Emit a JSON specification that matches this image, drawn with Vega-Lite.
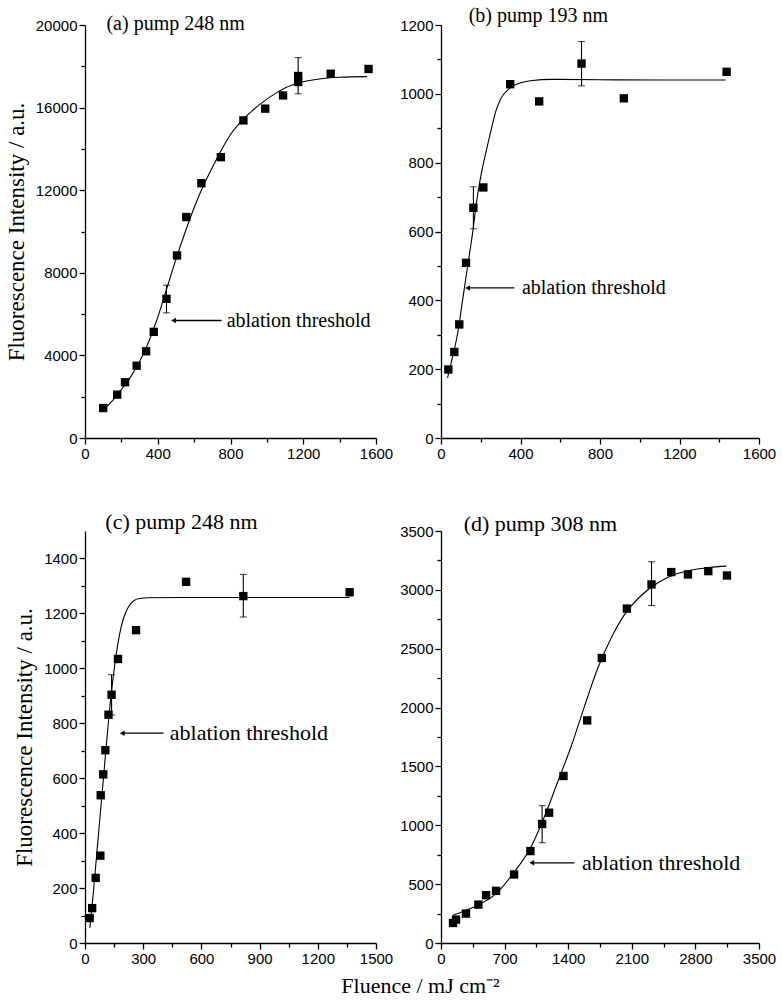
{
  "$schema": "https://vega.github.io/schema/vega-lite/v6.json",
  "background": "white",
  "padding": {"left": 5, "top": 5, "right": 5, "bottom": 5},
  "title": {"text": "Fluence / mJ cm⁻²", "orient": "bottom", "anchor": "middle", "font": "Liberation Serif", "fontSize": 22, "fontWeight": "normal", "color": "black", "dx": 30, "offset": 10},
  "datasets": {
    "a_pts": [{"x":100,"y":1450},{"x":177,"y":2100},{"x":220,"y":2700},{"x":284,"y":3500},{"x":336,"y":4200},{"x":378,"y":5140},{"x":448,"y":6740},{"x":506,"y":8840},{"x":557,"y":10700},{"x":640,"y":12340},{"x":747,"y":13600},{"x":871,"y":15380},{"x":991,"y":15950},{"x":1089,"y":16590},{"x":1172,"y":17530},{"x":1172,"y":17240},{"x":1351,"y":17640},{"x":1559,"y":17870}],
    "a_err": [{"x":448,"y":6060,"y2":7400},{"x":1172,"y":16670,"y2":18420}],
    "a_fit": [{"x":100,"y":1370},{"x":150,"y":1800},{"x":200,"y":2350},{"x":250,"y":2950},{"x":300,"y":3700},{"x":350,"y":4650},{"x":400,"y":5850},{"x":450,"y":7250},{"x":500,"y":8650},{"x":550,"y":9950},{"x":600,"y":11150},{"x":650,"y":12200},{"x":700,"y":13100},{"x":750,"y":13950},{"x":800,"y":14700},{"x":860,"y":15350},{"x":920,"y":15850},{"x":975,"y":16250},{"x":1050,"y":16700},{"x":1100,"y":16950},{"x":1200,"y":17250},{"x":1300,"y":17400},{"x":1400,"y":17470},{"x":1550,"y":17500}],
    "a_ann": [{"x":487,"x2":751,"y":5690}],
    "a_txt": [{"x":779,"y":5690,"text":"ablation threshold"},{"x":118,"y":20060,"text":"(a) pump 248 nm"}],
    "b_pts": [{"x":37,"y":199},{"x":67,"y":250},{"x":92,"y":330},{"x":126,"y":509},{"x":163,"y":669},{"x":213,"y":728},{"x":348,"y":1028},{"x":494,"y":978},{"x":707,"y":1088},{"x":920,"y":987},{"x":1437,"y":1064}],
    "b_err": [{"x":163,"y":608,"y2":730},{"x":707,"y":1023,"y2":1152}],
    "b_fit": [{"x":33,"y":175},{"x":59,"y":237},{"x":84,"y":305},{"x":109,"y":402},{"x":134,"y":499},{"x":159,"y":596},{"x":180,"y":690},{"x":200,"y":760},{"x":226,"y":830},{"x":250,"y":890},{"x":276,"y":950},{"x":300,"y":985},{"x":343,"y":1015},{"x":400,"y":1032},{"x":450,"y":1038},{"x":561,"y":1042},{"x":800,"y":1041},{"x":1100,"y":1040},{"x":1432,"y":1040}],
    "b_ann": [{"x":134,"x2":369,"y":436}],
    "b_txt": [{"x":407,"y":436,"text":"ablation threshold"},{"x":139,"y":1227,"text":"(b) pump 193 nm"}],
    "c_pts": [{"x":24,"y":91},{"x":37,"y":127},{"x":55,"y":237},{"x":79,"y":318},{"x":81,"y":538},{"x":94,"y":614},{"x":105,"y":702},{"x":121,"y":831},{"x":137,"y":904},{"x":170,"y":1034},{"x":263,"y":1139},{"x":521,"y":1315},{"x":816,"y":1263},{"x":1364,"y":1277}],
    "c_err": [{"x":137,"y":830,"y2":977},{"x":816,"y":1187,"y2":1342}],
    "c_fit": [{"x":25,"y":55},{"x":40,"y":160},{"x":60,"y":320},{"x":80,"y":480},{"x":100,"y":640},{"x":120,"y":800},{"x":135,"y":905},{"x":150,"y":995},{"x":165,"y":1070},{"x":180,"y":1130},{"x":200,"y":1185},{"x":225,"y":1225},{"x":250,"y":1245},{"x":280,"y":1254},{"x":330,"y":1257},{"x":500,"y":1258},{"x":900,"y":1258},{"x":1364,"y":1258}],
    "c_ann": [{"x":192,"x2":405,"y":764}],
    "c_txt": [{"x":437,"y":764,"text":"ablation threshold"},{"x":105,"y":1534,"text":"(c) pump 248 nm"}],
    "d_pts": [{"x":132,"y":170},{"x":165,"y":199},{"x":275,"y":250},{"x":411,"y":326},{"x":496,"y":406},{"x":606,"y":443},{"x":804,"y":582},{"x":984,"y":781},{"x":1113,"y":1011},{"x":1190,"y":1107},{"x":1348,"y":1419},{"x":1609,"y":1891},{"x":1770,"y":2421},{"x":2046,"y":2841},{"x":2317,"y":3046},{"x":2534,"y":3151},{"x":2718,"y":3131},{"x":2942,"y":3159},{"x":3147,"y":3122}],
    "d_err": [{"x":1113,"y":852,"y2":1167},{"x":2317,"y":2867,"y2":3239}],
    "d_fit": [{"x":132,"y":236},{"x":250,"y":270},{"x":404,"y":321},{"x":606,"y":420},{"x":808,"y":605},{"x":992,"y":818},{"x":1138,"y":1073},{"x":1285,"y":1370},{"x":1432,"y":1669},{"x":1579,"y":2010},{"x":1726,"y":2336},{"x":1873,"y":2592},{"x":2020,"y":2790},{"x":2204,"y":2952},{"x":2387,"y":3060},{"x":2571,"y":3131},{"x":2754,"y":3168},{"x":2950,"y":3190},{"x":3140,"y":3202}],
    "d_ann": [{"x":999,"x2":1469,"y":681}],
    "d_txt": [{"x":1553,"y":681,"text":"ablation threshold"},{"x":250,"y":3557,"text":"(d) pump 308 nm"}]
  },
  "columns": 2,
  "bounds": "flush",
  "align": "all",
  "spacing": {"row": 93, "column": 38},
  "concat": [
    {
      "width": 291, "height": 413,
      "encoding": {
        "x": {"field": "x", "type": "quantitative", "scale": {"domain": [0, 1600]},
              "axis": {"title": null, "values": [0,200,400,600,800,1000,1200,1400,1600], "format": "d",
                       "labelExpr": "datum.value % 400 === 0 ? datum.label : ''",
                       "tickSize": {"condition": {"test": "datum.value % 400 !== 0", "value": 4}, "value": 6}}},
        "y": {"field": "y", "type": "quantitative", "scale": {"domain": [0, 20000]},
              "axis": {"title": "Fluorescence Intensity / a.u.", "values": [0,2000,4000,6000,8000,10000,12000,14000,16000,18000,20000], "format": "d",
                       "labelExpr": "datum.value % 4000 === 0 ? datum.label : ''",
                       "tickSize": {"condition": {"test": "datum.value % 4000 !== 0", "value": 4}, "value": 6}}}
      },
      "layer": [
        {"data": {"name": "a_fit"}, "mark": {"type": "line", "color": "black", "strokeWidth": 1.1, "interpolate": "monotone"}},
        {"data": {"name": "a_err"}, "mark": {"type": "errorbar", "color": "black", "thickness": 1.1, "ticks": {"size": 7}}, "encoding": {"y2": {"field": "y2"}}},
        {"data": {"name": "a_pts"}, "mark": {"type": "point", "shape": "square", "filled": true, "color": "black", "opacity": 1, "size": 70}},
        {"data": {"name": "a_ann"}, "mark": {"type": "rule", "color": "black", "strokeWidth": 1.3}, "encoding": {"x2": {"field": "x2"}}},
        {"data": {"name": "a_ann"}, "mark": {"type": "point", "shape": "triangle-left", "filled": true, "color": "black", "opacity": 1, "size": 30}},
        {"data": {"name": "a_txt"}, "mark": {"type": "text", "align": "left", "baseline": "middle", "font": "Liberation Serif", "fontSize": 20, "color": "black"}, "encoding": {"text": {"field": "text"}}}
      ]
    },
    {
      "width": 318, "height": 413,
      "encoding": {
        "x": {"field": "x", "type": "quantitative", "scale": {"domain": [0, 1600]},
              "axis": {"title": null, "values": [0,200,400,600,800,1000,1200,1400,1600], "format": "d",
                       "labelExpr": "datum.value % 400 === 0 ? datum.label : ''",
                       "tickSize": {"condition": {"test": "datum.value % 400 !== 0", "value": 4}, "value": 6}}},
        "y": {"field": "y", "type": "quantitative", "scale": {"domain": [0, 1200]},
              "axis": {"title": null, "values": [0,100,200,300,400,500,600,700,800,900,1000,1100,1200], "format": "d",
                       "labelExpr": "datum.value % 200 === 0 ? datum.label : ''",
                       "tickSize": {"condition": {"test": "datum.value % 200 !== 0", "value": 4}, "value": 6}}}
      },
      "layer": [
        {"data": {"name": "b_fit"}, "mark": {"type": "line", "color": "black", "strokeWidth": 1.1, "interpolate": "monotone"}},
        {"data": {"name": "b_err"}, "mark": {"type": "errorbar", "color": "black", "thickness": 1.1, "ticks": {"size": 7}}, "encoding": {"y2": {"field": "y2"}}},
        {"data": {"name": "b_pts"}, "mark": {"type": "point", "shape": "square", "filled": true, "color": "black", "opacity": 1, "size": 70}},
        {"data": {"name": "b_ann"}, "mark": {"type": "rule", "color": "black", "strokeWidth": 1.3}, "encoding": {"x2": {"field": "x2"}}},
        {"data": {"name": "b_ann"}, "mark": {"type": "point", "shape": "triangle-left", "filled": true, "color": "black", "opacity": 1, "size": 30}},
        {"data": {"name": "b_txt"}, "mark": {"type": "text", "align": "left", "baseline": "middle", "font": "Liberation Serif", "fontSize": 20, "color": "black"}, "encoding": {"text": {"field": "text"}}}
      ]
    },
    {
      "width": 291, "height": 412,
      "encoding": {
        "x": {"field": "x", "type": "quantitative", "scale": {"domain": [0, 1500]},
              "axis": {"title": null, "values": [0,150,300,450,600,750,900,1050,1200,1350,1500], "format": "d",
                       "labelExpr": "datum.value % 300 === 0 ? datum.label : ''",
                       "tickSize": {"condition": {"test": "datum.value % 300 !== 0", "value": 4}, "value": 6}}},
        "y": {"field": "y", "type": "quantitative", "scale": {"domain": [0, 1500]},
              "axis": {"title": "Fluorescence Intensity  / a.u.", "values": [0,100,200,300,400,500,600,700,800,900,1000,1100,1200,1300,1400], "format": "d",
                       "labelExpr": "datum.value % 200 === 0 ? datum.label : ''",
                       "tickSize": {"condition": {"test": "datum.value % 200 !== 0", "value": 4}, "value": 6}}}
      },
      "layer": [
        {"data": {"name": "c_fit"}, "mark": {"type": "line", "color": "black", "strokeWidth": 1.1, "interpolate": "monotone"}},
        {"data": {"name": "c_err"}, "mark": {"type": "errorbar", "color": "black", "thickness": 1.1, "ticks": {"size": 7}}, "encoding": {"y2": {"field": "y2"}}},
        {"data": {"name": "c_pts"}, "mark": {"type": "point", "shape": "square", "filled": true, "color": "black", "opacity": 1, "size": 70}},
        {"data": {"name": "c_ann"}, "mark": {"type": "rule", "color": "black", "strokeWidth": 1.3}, "encoding": {"x2": {"field": "x2"}}},
        {"data": {"name": "c_ann"}, "mark": {"type": "point", "shape": "triangle-left", "filled": true, "color": "black", "opacity": 1, "size": 30}},
        {"data": {"name": "c_txt"}, "mark": {"type": "text", "align": "left", "baseline": "middle", "font": "Liberation Serif", "fontSize": 22, "color": "black"}, "encoding": {"text": {"field": "text"}}}
      ]
    },
    {
      "width": 318, "height": 412,
      "encoding": {
        "x": {"field": "x", "type": "quantitative", "scale": {"domain": [0, 3500]},
              "axis": {"title": null, "values": [0,350,700,1050,1400,1750,2100,2450,2800,3150,3500], "format": "d",
                       "labelExpr": "datum.value % 700 === 0 ? datum.label : ''",
                       "tickSize": {"condition": {"test": "datum.value % 700 !== 0", "value": 4}, "value": 6}}},
        "y": {"field": "y", "type": "quantitative", "scale": {"domain": [0, 3500]},
              "axis": {"title": null, "values": [0,250,500,750,1000,1250,1500,1750,2000,2250,2500,2750,3000,3250,3500], "format": "d",
                       "labelExpr": "datum.value % 500 === 0 ? datum.label : ''",
                       "tickSize": {"condition": {"test": "datum.value % 500 !== 0", "value": 4}, "value": 6}}}
      },
      "layer": [
        {"data": {"name": "d_fit"}, "mark": {"type": "line", "color": "black", "strokeWidth": 1.1, "interpolate": "monotone"}},
        {"data": {"name": "d_err"}, "mark": {"type": "errorbar", "color": "black", "thickness": 1.1, "ticks": {"size": 7}}, "encoding": {"y2": {"field": "y2"}}},
        {"data": {"name": "d_pts"}, "mark": {"type": "point", "shape": "square", "filled": true, "color": "black", "opacity": 1, "size": 70}},
        {"data": {"name": "d_ann"}, "mark": {"type": "rule", "color": "black", "strokeWidth": 1.3}, "encoding": {"x2": {"field": "x2"}}},
        {"data": {"name": "d_ann"}, "mark": {"type": "point", "shape": "triangle-left", "filled": true, "color": "black", "opacity": 1, "size": 30}},
        {"data": {"name": "d_txt"}, "mark": {"type": "text", "align": "left", "baseline": "middle", "font": "Liberation Serif", "fontSize": 22, "color": "black"}, "encoding": {"text": {"field": "text"}}}
      ]
    }
  ],
  "config": {
    "view": {"stroke": null},
    "axis": {"domainColor": "black", "domainWidth": 1.3, "tickColor": "black", "tickWidth": 1.3, "labelColor": "black", "labelFont": "Liberation Sans", "labelFontSize": 15, "labelPadding": 2, "labelFlush": false, "labelOverlap": false, "grid": false, "titleFont": "Liberation Serif", "titleFontSize": 23, "titleFontWeight": "normal", "titleColor": "black", "titlePadding": 7}
  }
}
